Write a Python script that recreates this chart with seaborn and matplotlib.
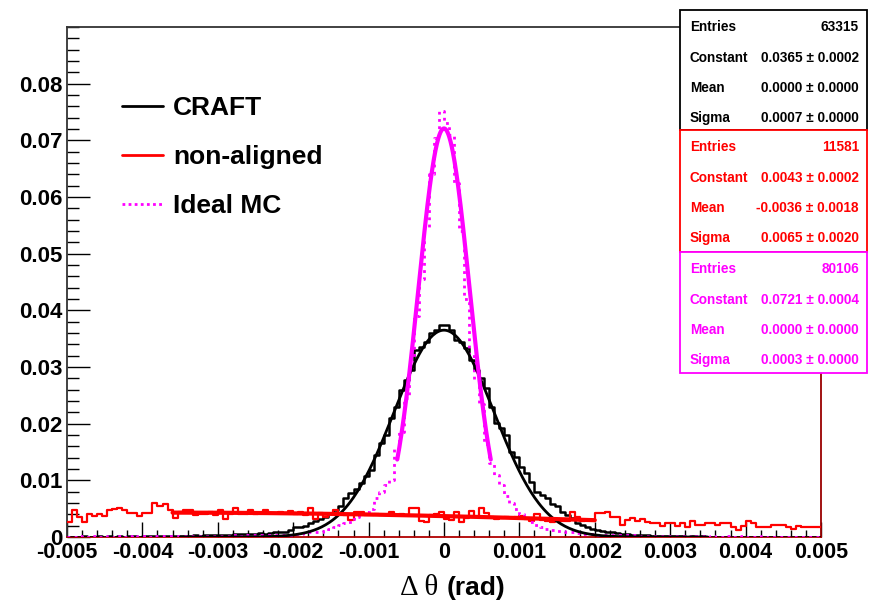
import numpy as np
import pandas as pd
import matplotlib
matplotlib.use("Agg")
import matplotlib.pyplot as plt
from matplotlib.patches import Rectangle
from matplotlib.lines import Line2D
from matplotlib.ticker import MultipleLocator
import seaborn as sns

# ---------------- data ----------------
X_MIN, X_MAX, N_BINS = -0.005, 0.005, 150

craft = [
    0.0000, 0.0000, 0.0000, 0.0001, 0.0000, 0.0000, 0.0001, 0.0000, 0.0001, 0.0000,
    0.0001, 0.0000, 0.0001, 0.0001, 0.0000, 0.0001, 0.0001, 0.0001, 0.0002, 0.0001,
    0.0001, 0.0002, 0.0002, 0.0002, 0.0002, 0.0003, 0.0002, 0.0003, 0.0004, 0.0003,
    0.0003, 0.0004, 0.0004, 0.0005, 0.0005, 0.0005, 0.0006, 0.0006, 0.0007, 0.0006,
    0.0007, 0.0008, 0.0009, 0.0009, 0.0012, 0.0017, 0.0018, 0.0020, 0.0024, 0.0029,
    0.0032, 0.0035, 0.0042, 0.0048, 0.0055, 0.0068, 0.0078, 0.0084, 0.0095, 0.0107,
    0.0118, 0.0145, 0.0166, 0.0180, 0.0210, 0.0230, 0.0260, 0.0277, 0.0295, 0.0330,
    0.0335, 0.0345, 0.0360, 0.0366, 0.0375, 0.0375, 0.0366, 0.0348, 0.0345, 0.0334,
    0.0313, 0.0295, 0.0281, 0.0263, 0.0230, 0.0201, 0.0193, 0.0180, 0.0150, 0.0141,
    0.0124, 0.0113, 0.0097, 0.0080, 0.0074, 0.0068, 0.0058, 0.0054, 0.0045, 0.0039,
    0.0033, 0.0025, 0.0021, 0.0018, 0.0015, 0.0012, 0.0011, 0.0009, 0.0008, 0.0007,
    0.0005, 0.0005, 0.0004, 0.0004, 0.0003, 0.0003, 0.0002, 0.0002, 0.0002, 0.0001,
    0.0001, 0.0001, 0.0001, 0.0000, 0.0001, 0.0000, 0.0001, 0.0000, 0.0000, 0.0000,
    0.0000, 0.0000, 0.0000, 0.0000, 0.0000, 0.0000, 0.0000, 0.0000, 0.0000, 0.0000,
    0.0000, 0.0000, 0.0000, 0.0000, 0.0000, 0.0000, 0.0000, 0.0000, 0.0000, 0.0000,
]

non_aligned = [
    0.0027, 0.0047, 0.0036, 0.0027, 0.0041, 0.0037, 0.0041, 0.0037, 0.0047, 0.0049,
    0.0051, 0.0047, 0.0042, 0.0042, 0.0037, 0.0042, 0.0042, 0.0060, 0.0055, 0.0058,
    0.0048, 0.0033, 0.0044, 0.0048, 0.0048, 0.0039, 0.0041, 0.0041, 0.0044, 0.0039,
    0.0047, 0.0031, 0.0041, 0.0051, 0.0041, 0.0041, 0.0048, 0.0041, 0.0042, 0.0047,
    0.0042, 0.0043, 0.0045, 0.0042, 0.0046, 0.0040, 0.0045, 0.0039, 0.0051, 0.0032,
    0.0042, 0.0036, 0.0040, 0.0047, 0.0042, 0.0038, 0.0030, 0.0044, 0.0045, 0.0039,
    0.0039, 0.0040, 0.0038, 0.0039, 0.0045, 0.0039, 0.0040, 0.0038, 0.0051, 0.0052,
    0.0028, 0.0027, 0.0039, 0.0041, 0.0045, 0.0031, 0.0030, 0.0045, 0.0027, 0.0033,
    0.0046, 0.0036, 0.0051, 0.0042, 0.0035, 0.0031, 0.0033, 0.0036, 0.0033, 0.0035,
    0.0037, 0.0031, 0.0029, 0.0041, 0.0030, 0.0028, 0.0027, 0.0030, 0.0029, 0.0029,
    0.0044, 0.0036, 0.0029, 0.0030, 0.0030, 0.0042, 0.0042, 0.0045, 0.0035, 0.0035,
    0.0021, 0.0030, 0.0033, 0.0029, 0.0031, 0.0027, 0.0025, 0.0025, 0.0019, 0.0025,
    0.0025, 0.0019, 0.0024, 0.0018, 0.0029, 0.0021, 0.0021, 0.0024, 0.0024, 0.0021,
    0.0024, 0.0024, 0.0018, 0.0012, 0.0019, 0.0029, 0.0024, 0.0018, 0.0017, 0.0017,
    0.0021, 0.0021, 0.0021, 0.0018, 0.0015, 0.0019, 0.0017, 0.0018, 0.0018, 0.0017,
]

ideal_mc = [
    0.0000, 0.0000, 0.0001, 0.0000, 0.0000, 0.0001, 0.0000, 0.0000, 0.0001, 0.0000,
    0.0001, 0.0000, 0.0001, 0.0000, 0.0001, 0.0001, 0.0000, 0.0001, 0.0001, 0.0001,
    0.0001, 0.0001, 0.0002, 0.0001, 0.0001, 0.0002, 0.0001, 0.0002, 0.0002, 0.0002,
    0.0002, 0.0002, 0.0002, 0.0003, 0.0002, 0.0003, 0.0003, 0.0003, 0.0003, 0.0003,
    0.0003, 0.0003, 0.0003, 0.0004, 0.0004, 0.0005, 0.0006, 0.0007, 0.0008, 0.0008,
    0.0009, 0.0011, 0.0014, 0.0018, 0.0021, 0.0024, 0.0027, 0.0036, 0.0040, 0.0045,
    0.0050, 0.0068, 0.0080, 0.0092, 0.0100, 0.0155, 0.0185, 0.0245, 0.0300, 0.0390,
    0.0455, 0.0546, 0.0640, 0.0704, 0.0751, 0.0731, 0.0710, 0.0625, 0.0540, 0.0420,
    0.0320, 0.0277, 0.0235, 0.0165, 0.0130, 0.0110, 0.0092, 0.0072, 0.0060, 0.0050,
    0.0040, 0.0033, 0.0027, 0.0022, 0.0018, 0.0015, 0.0013, 0.0011, 0.0010, 0.0009,
    0.0008, 0.0007, 0.0006, 0.0006, 0.0005, 0.0004, 0.0004, 0.0003, 0.0003, 0.0003,
    0.0003, 0.0003, 0.0003, 0.0003, 0.0002, 0.0002, 0.0002, 0.0002, 0.0001, 0.0002,
    0.0001, 0.0001, 0.0001, 0.0001, 0.0000, 0.0001, 0.0001, 0.0000, 0.0001, 0.0000,
    0.0000, 0.0001, 0.0000, 0.0000, 0.0001, 0.0000, 0.0000, 0.0000, 0.0001, 0.0000,
    0.0000, 0.0000, 0.0000, 0.0000, 0.0000, 0.0000, 0.0000, 0.0000, 0.0000, 0.0000,
]

# Gaussian fit results: constant, mean, sigma, fit range
fit_craft = dict(const=0.0365, mean=0.0000, sigma=0.00066, lo=-0.0035, hi=0.0035)
fit_nonaligned = dict(const=0.0043, mean=-0.0036, sigma=0.0065, lo=-0.0036, hi=0.0020)
fit_ideal = dict(const=0.0721, mean=0.0000, sigma=0.00034, lo=-0.00062, hi=0.00062)

series_labels = ["CRAFT", "non-aligned", "Ideal MC"]
stat_names = ["Entries", "Constant", "Mean", "Sigma"]
stat_values = [
    ["63315", "0.0365 \u00b1 0.0002", "0.0000 \u00b1 0.0000", "0.0007 \u00b1 0.0000"],
    ["11581", "0.0043 \u00b1 0.0002", "-0.0036 \u00b1 0.0018", "0.0065 \u00b1 0.0020"],
    ["80106", "0.0721 \u00b1 0.0004", "0.0000 \u00b1 0.0000", "0.0003 \u00b1 0.0000"],
]

x_tick_vals = [-0.005, -0.004, -0.003, -0.002, -0.001, 0.0, 0.001, 0.002, 0.003, 0.004, 0.005]
x_tick_labels = ["-0.005", "-0.004", "-0.003", "-0.002", "-0.001", "0",
                 "0.001", "0.002", "0.003", "0.004", "0.005"]
y_tick_vals = [0.0, 0.01, 0.02, 0.03, 0.04, 0.05, 0.06, 0.07, 0.08]
y_tick_labels = ["0", "0.01", "0.02", "0.03", "0.04", "0.05", "0.06", "0.07", "0.08"]
Y_MAX = 0.09

# ---------------- style ----------------
sns.set_style("white")
plt.rcParams['font.family'] = ['Liberation Sans', 'DejaVu Sans']
plt.rcParams['font.weight'] = 'bold'
for key in ("text.color", "axes.labelcolor", "xtick.color", "ytick.color"):
    plt.rcParams[key] = "black"

BLACK, RED, MAGENTA = "#000000", "#ff0000", "#ff00ff"
colors = [BLACK, RED, MAGENTA]

W, H = 869, 604
fig = plt.figure(figsize=(W / 100, H / 100), dpi=100)
fig.patch.set_facecolor("white")


def fx(px):
    return px / W


def fy(py):
    return 1 - py / H


ax = fig.add_axes([fx(67), fy(537), fx(821) - fx(67), fy(27) - fy(537)])

edges = np.linspace(X_MIN, X_MAX, N_BINS + 1)
centers = 0.5 * (edges[:-1] + edges[1:])
hist_df = pd.DataFrame({"x": centers, "craft": craft,
                        "non_aligned": non_aligned, "ideal_mc": ideal_mc})

# histograms
hist_style = [
    ("craft", BLACK, 1.8, "-", 3),
    ("non_aligned", RED, 1.6, "-", 3),
    ("ideal_mc", MAGENTA, 2.0, (0, (1, 1.6)), 4),
]
for col, c, lw, ls, z in hist_style:
    sns.histplot(data=hist_df, x="x", weights=col, bins=N_BINS,
                 binrange=(X_MIN, X_MAX), element="step", fill=False,
                 color=c, linewidth=lw, linestyle=ls, ax=ax, zorder=z)


def gauss_curve(p, n=400):
    xs = np.linspace(p["lo"], p["hi"], n)
    ys = p["const"] * np.exp(-0.5 * ((xs - p["mean"]) / p["sigma"]) ** 2)
    return xs, ys


for p, c, lw in [(fit_craft, BLACK, 2.0), (fit_nonaligned, RED, 3.0), (fit_ideal, MAGENTA, 3.0)]:
    xs, ys = gauss_curve(p)
    sns.lineplot(x=xs, y=ys, color=c, linewidth=lw, ax=ax, zorder=5)

ax.set_xlim(X_MIN, X_MAX)
ax.set_ylim(0, Y_MAX)
ax.set_xlabel("")
ax.set_ylabel("")
ax.grid(False)

ax.set_xticks(x_tick_vals, labels=x_tick_labels)
ax.set_yticks(y_tick_vals, labels=y_tick_labels)
ax.xaxis.set_minor_locator(MultipleLocator(0.0002))
ax.yaxis.set_minor_locator(MultipleLocator(0.002))
ax.tick_params(axis="x", which="major", direction="in", length=10.8, width=1.0,
               labelsize=15.5, pad=3.5, bottom=True, top=False, color="black",
               labelcolor="black")
ax.tick_params(axis="x", which="minor", direction="in", length=5.0, width=1.0,
               bottom=True, top=False, color="black")
ax.tick_params(axis="y", which="major", direction="in", length=16.5, width=1.0,
               labelsize=16, pad=3.5, left=True, right=False, color="black",
               labelcolor="black")
ax.tick_params(axis="y", which="minor", direction="in", length=8.6, width=1.0,
               left=True, right=False, color="black")
for lab in ax.get_xticklabels() + ax.get_yticklabels():
    lab.set_fontweight("bold")

ax.spines["left"].set_color("#333333")
ax.spines["top"].set_color("#333333")
ax.spines["bottom"].set_color("#b00000")
ax.spines["right"].set_color("#9a0000")
for s in ax.spines.values():
    s.set_linewidth(1.3)

# legend
handles = [
    Line2D([], [], color=BLACK, linewidth=2.0),
    Line2D([], [], color=RED, linewidth=2.0),
    Line2D([], [], color=MAGENTA, linewidth=2.0, linestyle=(0, (1, 1.2))),
]
leg = ax.legend(handles, series_labels, loc="upper left", bbox_to_anchor=(0.073, 0.864),
                frameon=False, prop={"size": 19, "weight": "bold"}, handlelength=1.55,
                handletextpad=0.38, labelspacing=0.95, borderpad=0, borderaxespad=0)
for t in leg.get_texts():
    t.set_color("black")

# axis title: Greek symbols in a serif face, unit in bold sans
fig.text(fx(438), fy(588), "\u0394 \u03b8", ha="right", va="center",
         fontsize=21, fontweight="normal", family=["Liberation Serif", "DejaVu Serif"],
         color="black")
fig.text(fx(447), fy(588), "(rad)", ha="left", va="center",
         fontsize=19, fontweight="bold", color="black")

# statistics boxes
box_left, box_right = 680, 867
box_edges = [10, 130, 252, 373]
row_offsets = [17, 48, 78, 108]
for i, c in enumerate(colors):
    top, bottom = box_edges[i], box_edges[i + 1]
    rect = Rectangle((fx(box_left), fy(bottom)), fx(box_right) - fx(box_left),
                     fy(top) - fy(bottom), transform=fig.transFigure,
                     facecolor="white", edgecolor=c, linewidth=1.3, zorder=10 + i)
    fig.add_artist(rect)
    for j, name in enumerate(stat_names):
        yy = top + row_offsets[j]
        fig.text(fx(690), fy(yy), name, ha="left", va="center", fontsize=9.8,
                 fontweight="bold", color=c, zorder=20)
        fig.text(fx(859), fy(yy), stat_values[i][j], ha="right", va="center",
                 fontsize=9.8, fontweight="bold", color=c, zorder=20)

fig.savefig("out.png", dpi=100, facecolor="white")
